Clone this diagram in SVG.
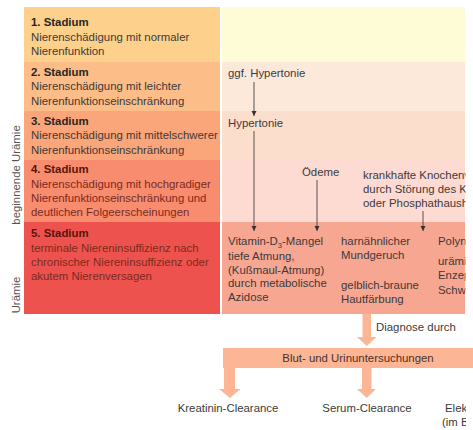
<svg xmlns="http://www.w3.org/2000/svg" width="473" height="430" viewBox="0 0 473 430">
<style>
text{font-family:"Liberation Sans",Arial,sans-serif;font-size:11.4px}
.t{font-weight:bold}
.g{fill:#3d3a38}
.gt{fill:#2a2523}
.r{fill:#7c2a1c}
.rt{fill:#571509}
.p{fill:#3d3a38}
.v{fill:#555}
.thin{stroke:#444;stroke-width:0.9;fill:none}
.big{fill:#fcb595}
</style>
<defs>
<marker id="ah" markerWidth="6" markerHeight="6" refX="5" refY="3" orient="auto" markerUnits="userSpaceOnUse">
<path d="M0,0.5 L5,3 L0,5.5 z" fill="#333"/>
</marker>
<clipPath id="cp"><rect x="222" y="0" width="243.5" height="430"/></clipPath>
<clipPath id="cp2"><rect x="0" y="0" width="466" height="430"/></clipPath>
</defs>
<rect width="473" height="430" fill="#fff"/>
<g id="side-labels">
<text class="v" transform="translate(19.5,175) rotate(-90)" text-anchor="middle">beginnende Urämie</text>
<text class="v" transform="translate(19.5,295) rotate(-90)" text-anchor="middle">Urämie</text>
</g>
<g id="stage1">
<rect x="24" y="7" width="196" height="55" fill="#fdd08c"/>
<rect x="222" y="7" width="243" height="55" fill="#fefcd7"/>
<text class="t gt" x="31" y="26">1. Stadium</text>
<text class="g" x="31" y="40.5">Nierenschädigung mit normaler</text>
<text class="g" x="31" y="55">Nierenfunktion</text>
</g>
<g id="stage2">
<rect x="24" y="62" width="196" height="49" fill="#fcbd88"/>
<rect x="222" y="62" width="243" height="49" fill="#fde9da"/>
<text class="t gt" x="31" y="76">2. Stadium</text>
<text class="g" x="31" y="90">Nierenschädigung mit leichter</text>
<text class="g" x="31" y="104.5">Nierenfunktionseinschränkung</text>
</g>
<g id="stage3">
<rect x="24" y="111" width="196" height="49" fill="#faa57a"/>
<rect x="222" y="111" width="243" height="49" fill="#fcdecd"/>
<text class="t gt" x="31" y="124.5">3. Stadium</text>
<text class="g" x="31" y="139">Nierenschädigung mit mittelschwerer</text>
<text class="g" x="31" y="153.5">Nierenfunktionseinschränkung</text>
</g>
<g id="stage4">
<rect x="24" y="160" width="196" height="62" fill="#f78c6f"/>
<rect x="222" y="160" width="243" height="62" fill="#fddad2"/>
<text class="t rt" x="31" y="173">4. Stadium</text>
<text class="r" x="31" y="188">Nierenschädigung mit hochgradiger</text>
<text class="r" x="31" y="202">Nierenfunktionseinschränkung und</text>
<text class="r" x="31" y="216">deutlichen Folgeerscheinungen</text>
</g>
<g id="stage5">
<rect x="24" y="222" width="196" height="92" fill="#ee524f"/>
<rect x="222" y="222" width="243" height="92" fill="#f7a692"/>
<text class="t rt" x="31" y="236.5">5. Stadium</text>
<text class="r" x="31" y="251.5">terminale Niereninsuffizienz nach</text>
<text class="r" x="31" y="265.5">chronischer Niereninsuffizienz oder</text>
<text class="r" x="31" y="279.5">akutem Nierenversagen</text>
</g>
<g id="symptoms" clip-path="url(#cp)">
<text class="p" x="228" y="77">ggf. Hypertonie</text>
<text class="p" x="228" y="127">Hypertonie</text>
<text class="p" x="302" y="176">Ödeme</text>
<text class="p" x="363" y="179">krankhafte Knochenv</text>
<text class="p" x="363" y="193">durch Störung des Ka</text>
<text class="p" x="363" y="207">oder Phosphathausha</text>
<text class="p" x="228" y="245">Vitamin-D<tspan font-size="7.5" dy="3">3</tspan><tspan dy="-3">-Mangel</tspan></text>
<text class="p" x="228" y="260">tiefe Atmung,</text>
<text class="p" x="228" y="273.5">(Kußmaul-Atmung)</text>
<text class="p" x="228" y="287">durch metabolische</text>
<text class="p" x="228" y="300.5">Azidose</text>
<text class="p" x="341" y="245">harnähnlicher</text>
<text class="p" x="341" y="259">Mundgeruch</text>
<text class="p" x="341" y="289">gelblich-braune</text>
<text class="p" x="341" y="303">Hautfärbung</text>
<text class="p" x="438" y="245">Polyn</text>
<text class="p" x="438" y="265">urämi</text>
<text class="p" x="438" y="279">Enzep</text>
<text class="p" x="438" y="294">Schwä</text>
</g>
<g id="connectors">
<line class="thin" x1="254" y1="82" x2="254" y2="116" marker-end="url(#ah)"/>
<line class="thin" x1="254" y1="131" x2="254" y2="231" marker-end="url(#ah)"/>
<line class="thin" x1="317" y1="180" x2="317" y2="231" marker-end="url(#ah)"/>
<line class="thin" x1="423" y1="211" x2="423" y2="231" marker-end="url(#ah)"/>
<path class="big" d="M362.5,314 H371 V337 H376.5 L366.8,346 L357,337 H362.5 Z"/>
<path class="big" d="M223,348 H473 V368 H371.5 V389 H376 L366.7,398 L357,389 H362 V368 H235 V389 H240.5 L230,398 L219,389 H224 V368 H223 Z"/>
</g>
<g id="diagnosis" clip-path="url(#cp2)">
<text class="p" x="376" y="331">Diagnose durch</text>
<text x="358" y="362" text-anchor="middle" fill="#4a3228">Blut- und Urinuntersuchungen</text>
<text class="p" x="228" y="412" text-anchor="middle">Kreatinin-Clearance</text>
<text class="p" x="367" y="412" text-anchor="middle">Serum-Clearance</text>
<text class="p" x="445" y="412">Elek</text>
<text class="p" x="442" y="425.5">(im B</text>
</g>
</svg>
